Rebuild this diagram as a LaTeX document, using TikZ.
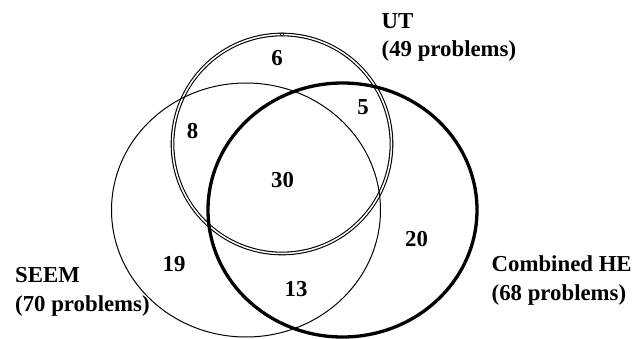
\documentclass[tikz,border=0pt]{standalone}
\usepackage{fontspec}
\setmainfont{Liberation Serif}
\begin{document}
\begin{tikzpicture}[x=1pt,y=-1pt,
  lbl/.style={font=\bfseries\fontsize{22.8}{28}\selectfont, inner sep=0pt},
  num/.style={font=\bfseries\fontsize{22.8}{28}\selectfont, inner sep=0pt, anchor=center},
  thinset/.style={draw=black, line width=1pt},
  doubleset/.style={draw=black, line width=1.1pt, double=white, double distance=1.5pt},
  thickset/.style={draw=black, line width=3.3pt}]
\useasboundingbox (0,0) rectangle (640,339);
% UT (double)
\draw[doubleset] (282,144) circle [radius=109.5pt];
\node[circle, draw=black, fill=white, line width=0.7pt, inner sep=0pt, minimum size=3.5pt] (mark) at (282,34.5) {};
% SEEM (thin)
\draw[thinset] (246,210) ellipse [x radius=134.5pt, y radius=127pt];
% Combined HE (thick)
\draw[thickset] (342.5,210) ellipse [x radius=134.5pt, y radius=127pt];
% region counts
\node[num] (n6) at (277,58) {6};
\node[num] (n5) at (363,107) {5};
\node[num] (n8) at (192.5,131) {8};
\node[num] (n30) at (282.5,180) {30};
\node[num] (n19) at (174,264) {19};
\node[num] (n13) at (296,289) {13};
\node[num] (n20) at (416.5,239) {20};
% set labels
\node[lbl, anchor=base west] (ut1) at (381.5,28.5) {UT};
\node[lbl, anchor=base west] (ut2) at (381.5,56.5) {(49 problems)};
\node[lbl, anchor=base west] (se1) at (15,283) {SEEM};
\node[lbl, anchor=base west] (se2) at (15,311) {(70 problems)};
\node[lbl, anchor=base west] (he1) at (491.5,272) {Combined HE};
\node[lbl, anchor=base west] (he2) at (491.5,300) {(68 problems)};
\end{tikzpicture}
\end{document}
